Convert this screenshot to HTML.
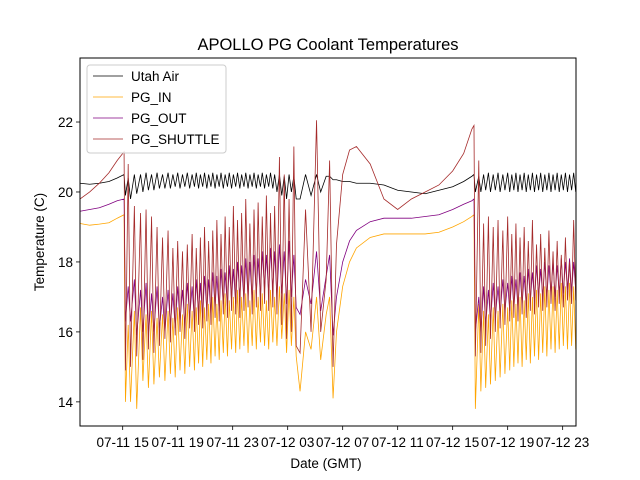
<!DOCTYPE html>
<html><head><meta charset="utf-8"><style>
body{margin:0;background:#fff;}
svg{display:block;font-family:"Liberation Sans","DejaVu Sans",sans-serif;}
</style></head><body>
<svg id="chart" width="640" height="480" viewBox="0 0 640 480">
<rect width="640" height="480" fill="#fff"/>
<text x="328" y="50" text-anchor="middle" font-size="16.5">APOLLO PG Coolant Temperatures</text>
<g id="plot"></g>
<g id="axes"></g>
<text x="326" y="468" text-anchor="middle" font-size="13.5">Date (GMT)</text>
<text transform="translate(44,242) rotate(-90)" text-anchor="middle" font-size="13.5">Temperature (C)</text>
<g>
<rect x="87" y="65" width="139" height="88" rx="3" fill="#fff" fill-opacity="0.8" stroke="#ccc" stroke-width="1"/>
<line x1="93" y1="76" x2="123" y2="76" stroke="#000" stroke-width="0.8"/>
<text x="131" y="81" font-size="13.5">Utah Air</text>
<line x1="93" y1="97" x2="123" y2="97" stroke="#ffa500" stroke-width="0.8"/>
<text x="131" y="102" font-size="13.5">PG_IN</text>
<line x1="93" y1="118" x2="123" y2="118" stroke="#800080" stroke-width="0.8"/>
<text x="131" y="123" font-size="13.5">PG_OUT</text>
<line x1="93" y1="139" x2="123" y2="139" stroke="#a52a2a" stroke-width="0.8"/>
<text x="131" y="144" font-size="13.5">PG_SHUTTLE</text>
</g>
</svg>
<script>
// hours since 07-11 00:00
const xTickHours=[15,19,23,27,31,35,39,43,47];
const xTickLabels=["07-11 15","07-11 19","07-11 23","07-12 03","07-12 07","07-12 11","07-12 15","07-12 19","07-12 23"];
const yTicks=[14,16,18,20,22];
// smooth pre-region
const tPre=[11.9,12.6,13.3,14.0,14.6,15.1,15.2];
const blPre=[20.25,20.22,20.25,20.3,20.4,20.5,19.9];
const orPre=[19.1,19.05,19.08,19.12,19.25,19.35,14.0];
const puPre=[19.45,19.5,19.55,19.65,19.75,19.8,16.3];
const rdPre=[19.8,20.0,20.25,20.55,20.9,21.15,14.9];
// oscillation region A (cycle high/low)
const tA=[15.4,15.85,16.3,16.7,17.1,17.5,17.9,18.3,18.65,19.0,19.35,19.7,20.05,20.35,20.65,20.95,21.25,21.55,21.85,22.15,22.45,22.75,23.05,23.35,23.65,23.95,24.25,24.55,24.85,25.15,25.45,25.75,26.05,26.4,26.75,27.1,27.45];
const rdHiA=[20.8,19.6,19.4,19.5,19.3,19.0,18.7,18.9,18.4,18.6,18.3,18.5,18.8,18.4,18.7,19.0,18.6,18.9,19.2,18.8,19.3,19.0,19.6,19.2,19.4,19.8,19.1,19.5,19.7,19.3,19.9,19.4,19.6,21.0,20.5,19.8,21.3];
const rdLoA=[15.0,15.3,15.2,15.5,15.4,15.6,15.8,15.7,15.9,16.0,15.8,16.1,16.0,16.2,16.1,16.3,16.2,16.4,16.3,16.5,16.4,16.6,16.5,16.4,16.6,16.7,16.5,16.7,16.6,16.8,16.6,16.7,16.5,16.2,15.8,16.0,15.6];
const orHiA=[16.2,16.6,16.7,16.5,16.6,16.4,16.5,16.6,16.4,16.7,16.5,16.8,16.6,16.7,16.9,16.7,16.8,17.0,16.8,16.9,17.1,16.9,17.0,17.2,17.0,17.1,16.9,17.2,17.0,17.1,16.9,17.2,17.0,17.3,17.1,17.2,17.0];
const orLoA=[14.0,13.8,14.6,14.4,14.5,14.7,14.6,14.8,14.7,14.9,14.8,15.0,14.9,15.1,15.0,15.2,15.1,15.3,15.2,15.4,15.3,15.5,15.4,15.5,15.6,15.4,15.6,15.5,15.7,15.6,15.5,15.7,15.6,15.8,15.4,15.6,15.3];
const puHiA=[17.3,17.5,17.2,17.4,17.1,17.3,17.0,17.2,17.1,17.3,17.2,17.4,17.3,17.5,17.4,17.6,17.5,17.7,17.6,17.8,17.7,17.9,17.8,18.0,17.9,18.1,18.0,18.2,18.1,18.3,18.2,18.4,18.3,18.5,18.3,18.6,18.2];
const puLoA=[16.3,15.9,16.0,15.9,16.0,16.1,16.0,16.2,16.1,16.3,16.2,16.4,16.3,16.5,16.4,16.6,16.5,16.7,16.6,16.8,16.7,16.9,16.8,17.0,16.9,17.0,16.9,17.1,17.0,17.2,17.1,17.2,17.0,17.1,16.8,17.0,16.7];
const blHiA=[20.4,20.5,20.5,20.55,20.5,20.55,20.5,20.55,20.5,20.55,20.5,20.55,20.5,20.55,20.5,20.55,20.5,20.55,20.5,20.55,20.5,20.55,20.5,20.55,20.5,20.55,20.5,20.55,20.5,20.55,20.5,20.55,20.5,20.5,20.45,20.5,20.45];
const blLoA=[19.8,19.95,20.0,20.05,20.05,20.1,20.1,20.1,20.15,20.1,20.15,20.1,20.15,20.1,20.15,20.1,20.15,20.1,20.15,20.1,20.15,20.1,20.15,20.1,20.15,20.1,20.15,20.1,20.15,20.1,20.15,20.1,20.0,19.9,19.8,20.0,19.8];
// middle smooth region
const tM=[27.9,28.3,28.7,29.1,29.4,29.8,30.05,30.3,30.55,31.0,31.5,32.0,33.0,34.0,35.0,36.0,37.0,38.0,39.0,39.8,40.4,40.55,40.65];
const rdM=[15.4,19.5,16.0,22.05,16.0,17.5,20.9,15.0,18.5,20.5,21.2,21.3,20.8,19.8,19.5,19.8,20.0,20.2,20.6,21.1,21.8,21.9,15.3];
const orM=[14.3,16.0,15.5,17.0,15.2,16.5,17.0,14.1,16.0,17.3,18.0,18.4,18.7,18.8,18.8,18.8,18.8,18.85,19.0,19.15,19.3,19.35,13.8];
const puM=[16.5,17.5,16.8,18.3,16.6,17.6,18.2,15.9,17.0,18.0,18.6,18.9,19.15,19.25,19.25,19.25,19.3,19.35,19.5,19.65,19.75,19.8,16.0];
const blM=[19.8,20.5,19.9,20.5,20.0,20.45,20.45,20.35,20.35,20.3,20.3,20.25,20.25,20.2,20.05,20.0,19.95,20.05,20.15,20.3,20.45,20.5,20.0];
// oscillation region B
const tB=[40.9,41.25,41.6,41.95,42.3,42.65,43.0,43.3,43.6,43.9,44.2,44.5,44.8,45.1,45.4,45.7,46.0,46.3,46.6,46.9,47.2,47.5,47.8];
const rdHiB=[20.9,19.1,19.3,19.0,19.2,18.9,19.3,18.8,19.1,18.7,19.0,18.6,19.2,18.5,18.8,18.4,18.9,18.3,18.6,18.2,18.7,18.0,19.2];
const rdLoB=[15.4,15.6,15.8,16.0,16.1,16.2,16.3,16.4,16.3,16.5,16.4,16.6,16.5,16.7,16.6,16.7,16.8,16.6,16.8,16.7,16.9,16.8,16.9];
const orHiB=[16.8,16.6,16.5,16.7,16.6,16.8,16.7,16.9,16.8,17.0,16.9,17.1,17.0,17.2,17.1,17.3,17.2,17.3,17.2,17.4,17.3,17.4,17.3];
const orLoB=[14.3,14.4,14.5,14.6,14.7,14.8,14.9,15.0,15.1,15.0,15.2,15.1,15.3,15.2,15.4,15.3,15.5,15.4,15.5,15.6,15.5,15.6,15.5];
const puHiB=[17.0,17.3,17.2,17.4,17.3,17.5,17.4,17.6,17.5,17.7,17.6,17.8,17.7,17.9,17.8,18.0,17.9,18.0,17.9,18.1,18.0,18.1,18.0];
const puLoB=[16.0,16.2,16.3,16.4,16.5,16.6,16.6,16.7,16.7,16.8,16.8,16.9,16.9,17.0,17.0,17.0,17.1,17.0,17.1,17.1,17.2,17.1,17.2];
const blHiB=[20.45,20.5,20.55,20.5,20.55,20.5,20.55,20.5,20.55,20.5,20.55,20.5,20.55,20.5,20.55,20.5,20.55,20.5,20.55,20.5,20.55,20.5,20.55];
const blLoB=[20.0,20.05,20.0,20.05,20.0,20.05,20.0,20.05,20.0,20.05,20.0,20.05,20.0,20.05,20.0,20.05,20.0,20.05,20.0,20.05,20.0,20.05,20.0];

const X0=80,X1=576,Y0=58,Y1=426;
const hMin=11.895,hMax=47.97,vMin=13.31,vMax=23.83;
function xS(h){return X0+(h-hMin)/(hMax-hMin)*(X1-X0);}
function yS(v){return Y1-(v-vMin)/(vMax-vMin)*(Y1-Y0);}
const NS="http://www.w3.org/2000/svg";
function mk(tag,attrs,parent){const e=document.createElementNS(NS,tag);for(const k in attrs)e.setAttribute(k,attrs[k]);parent.appendChild(e);return e;}

function build(pre,hiA,loA,mid,hiB,loB){
  const pts=[];
  tPre.forEach((t,i)=>pts.push([t,pre[i]]));
  tA.forEach((t,i)=>{pts.push([t,hiA[i]]);pts.push([t+0.17,loA[i]]);});
  tM.forEach((t,i)=>pts.push([t,mid[i]]));
  tB.forEach((t,i)=>{pts.push([t,hiB[i]]);pts.push([t+0.15,loB[i]]);});
  return pts;
}
const plot=document.getElementById('plot');
const clip=mk('clipPath',{id:'pc'},plot);
mk('rect',{x:X0,y:Y0,width:X1-X0,height:Y1-Y0},clip);
const series=[
  ['utah-air-line','#000',build(blPre,blHiA,blLoA,blM,blHiB,blLoB)],
  ['pg-in-line','#ffa500',build(orPre,orHiA,orLoA,orM,orHiB,orLoB)],
  ['pg-out-line','#800080',build(puPre,puHiA,puLoA,puM,puHiB,puLoB)],
  ['pg-shuttle-line','#a52a2a',build(rdPre,rdHiA,rdLoA,rdM,rdHiB,rdLoB)]
];
series.forEach(s=>{
  const d=s[2].map((p,i)=>(i?'L':'M')+xS(p[0]).toFixed(2)+','+yS(p[1]).toFixed(2)).join('');
  const p=mk('path',{d:d,fill:'none',stroke:s[1],'stroke-width':0.8,'clip-path':'url(#pc)'},plot);
  
  
});
const axes=document.getElementById('axes');
mk('rect',{x:X0,y:Y0,width:X1-X0,height:Y1-Y0,fill:'none',stroke:'#000','stroke-width':1},axes);
xTickHours.forEach((h,i)=>{
  const x=xS(h);
  mk('line',{x1:x,y1:Y1,x2:x,y2:Y1+4,stroke:'#000','stroke-width':0.8},axes);
  const t=mk('text',{x:x,y:Y1+21,'text-anchor':'middle','font-size':13.5},axes);
  t.textContent=xTickLabels[i];
  
  
});
yTicks.forEach(v=>{
  const y=yS(v);
  mk('line',{x1:X0-4,y1:y,x2:X0,y2:y,stroke:'#000','stroke-width':0.8},axes);
  const t=mk('text',{x:X0-7,y:y+5,'text-anchor':'end','font-size':13.5},axes);
  t.textContent=v;
  
  
});
</script>
</body></html>
